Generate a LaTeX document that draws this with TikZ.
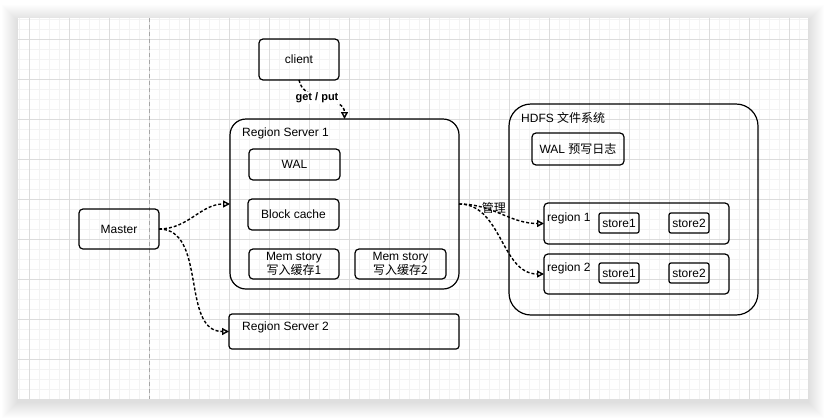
\documentclass[tikz,border=0pt]{standalone}
\usepackage{fontspec}
\setmainfont{Liberation Sans}
\newfontfamily\cjk{Noto Sans CJK SC}
\usetikzlibrary{arrows.meta}

\definecolor{gridminor}{HTML}{F3F3F3}
\definecolor{gridmajor}{HTML}{DCDCDC}

\begin{document}
\begin{tikzpicture}[x=1pt,y=-1pt,
    box/.style={draw,line width=1.2pt,rounded corners=4pt,inner sep=0pt,outer sep=0pt,align=center,font=\fontsize{12}{14}\selectfont},
    link/.style={line width=1.4pt,dash pattern=on 3pt off 2pt,-{Triangle[open,length=7pt,width=7pt]}},
    lbl/.style={anchor=west,inner sep=0pt,font=\fontsize{12}{14}\selectfont}]
    \useasboundingbox (0,0) rectangle (826,418);
    % paper and shadow
    \fill[white] (0,0) rectangle (826,418);
    \foreach \i in {1,...,16}
      \fill[black,opacity=0.006] (18-\i,18-\i+3) rectangle (808+\i,399+\i+3);
    \fill[white] (18,18) rectangle (808,399);
    \foreach \x in {19,29,...,799} \draw[gridminor,line width=1pt] (\x,18) -- (\x,399);
    \foreach \y in {19,29,...,389} \draw[gridminor,line width=1pt] (18,\y) -- (808,\y);
    \foreach \x in {29,69,...,789} \draw[gridmajor,line width=1pt] (\x,18) -- (\x,399);
    \foreach \y in {39,79,...,359} \draw[gridmajor,line width=1pt] (18,\y) -- (808,\y);
    \draw[gray!70,line width=0.8pt,dash pattern=on 4pt off 3pt] (149,18) -- (149,399);

    % nodes
    \node[box,minimum width=80pt,minimum height=41pt] (client) at (299,59.5) {client};
    \node[box,minimum width=80pt,minimum height=40pt] (master) at (119,229) {Master};

    \node[box,rounded corners=16pt,minimum width=229pt,minimum height=170pt] (rs1) at (344.5,204) {};
    \node[lbl] (rs1label) at (242,133) {Region Server 1};
    \node[box,minimum width=91pt,minimum height=31pt] (wal) at (294.5,164.5) {WAL};
    \node[box,minimum width=91pt,minimum height=31pt] (block) at (293.5,214.5) {Block cache};
    \node[box,minimum width=90pt,minimum height=30pt] (mem1) at (294,264) {Mem story\\{\cjk 写入缓存1}};
    \node[box,minimum width=91pt,minimum height=30pt] (mem2) at (400.5,264) {Mem story\\{\cjk 写入缓存2}};

    \node[box,rounded corners=3pt,minimum width=230pt,minimum height=35pt] (rs2) at (344,331.5) {};
    \node[lbl] (rs2label) at (242,327) {Region Server 2};

    \node[box,rounded corners=22pt,minimum width=249pt,minimum height=211pt] (hdfs) at (633.5,209.5) {};
    \node[lbl] (hdfslabel) at (521,118) {HDFS {\cjk 文件系统}};
    \node[box,minimum width=92pt,minimum height=32pt] (walh) at (578,149) {WAL {\cjk 预写日志}};

    \node[box,minimum width=185pt,minimum height=41pt] (region1) at (636.5,223.5) {};
    \node[lbl] (r1label) at (547,218) {region 1};
    \node[box,rounded corners=2pt,minimum width=40pt,minimum height=20pt] (store11) at (619,223) {store1};
    \node[box,rounded corners=2pt,minimum width=40pt,minimum height=20pt] (store12) at (689,223) {store2};

    \node[box,minimum width=185pt,minimum height=40pt] (region2) at (636.5,274) {};
    \node[lbl] (r2label) at (547,268) {region 2};
    \node[box,rounded corners=2pt,minimum width=40pt,minimum height=20pt] (store21) at (619,273) {store1};
    \node[box,rounded corners=2pt,minimum width=40pt,minimum height=20pt] (store22) at (689,273) {store2};

    % connectors
    \draw[link] (client.south) to[out=-80,in=90]
      node[pos=0.45,xshift=-3pt,fill=white,inner sep=1pt,font=\bfseries\fontsize{11}{13}\selectfont] {get / put} (rs1.north);
    \draw[link] (master.east) to[out=0,in=180] (rs1.west);
    \draw[link] (master.east) to[out=0,in=180] (rs2.west);
    \draw[link] (rs1.east) to[out=0,in=180]
      node[pos=0.4,yshift=3pt,inner sep=1pt,font=\cjk\fontsize{12}{14}\selectfont] {管理} (region1.west);
    \draw[link] (rs1.east) to[out=0,in=180] (region2.west);
  \end{tikzpicture}
\end{document}
